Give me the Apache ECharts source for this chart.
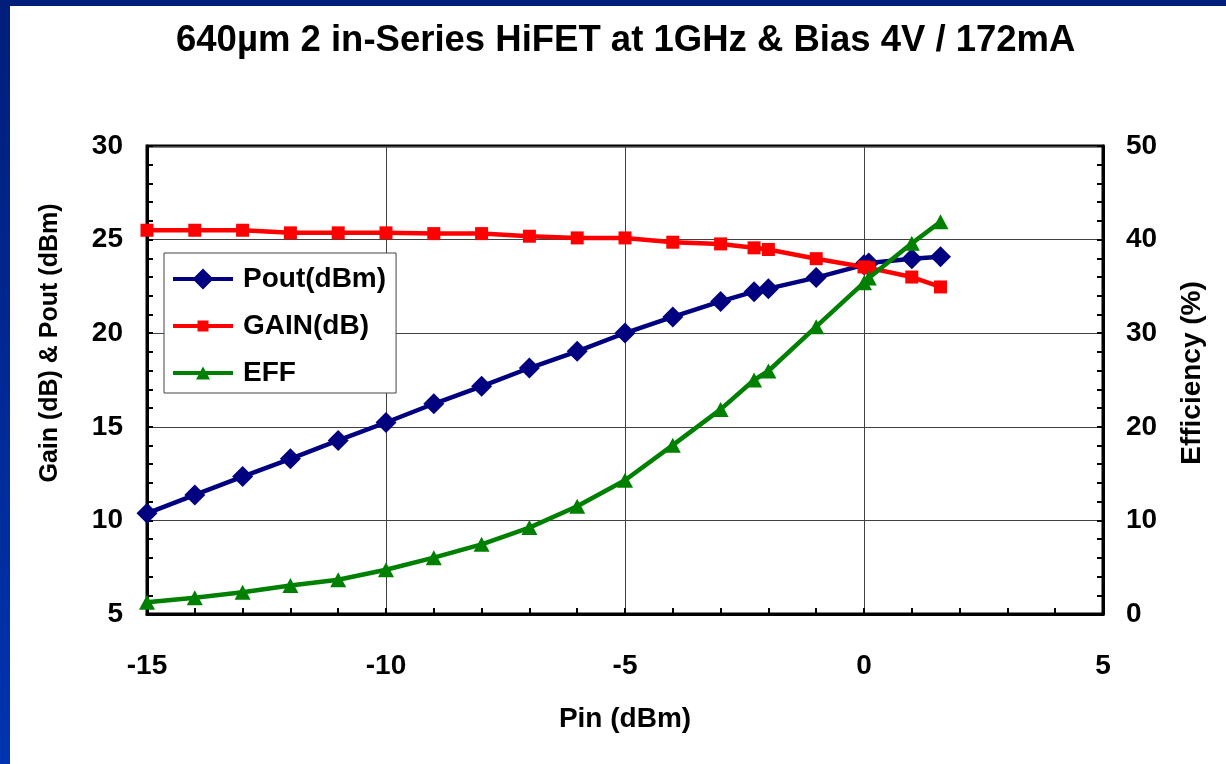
<!DOCTYPE html>
<html>
<head>
<meta charset="utf-8">
<script src="https://cdn.jsdelivr.net/npm/echarts@6/dist/echarts.min.js"></script>
<style>
html,body{margin:0;padding:0;background:#fff;}
#chart{width:1226px;height:764px;}
</style>
</head>
<body>
<div id="chart"></div>
<script>
// ---- data ----
const pin  = [-15, -14, -13, -12, -11, -10, -9, -8, -7, -6, -5, -4, -3, -2.3, -2, -1, 0, 0.1, 1, 1.6];
const pout = [10.38, 11.36, 12.34, 13.29, 14.27, 15.23, 16.23, 17.16, 18.14, 19.03, 20.01, 20.87, 21.70, 22.22, 22.38, 22.97, 23.65, 23.75, 23.98, 24.09];
const gain = [25.50, 25.50, 25.50, 25.36, 25.36, 25.36, 25.32, 25.32, 25.18, 25.09, 25.09, 24.86, 24.77, 24.56, 24.47, 23.98, 23.54, 23.49, 23.00, 22.47];
const eff  = [1.26, 1.73, 2.33, 3.05, 3.66, 4.73, 6.02, 7.44, 9.23, 11.51, 14.29, 18.04, 21.86, 25.00, 25.96, 30.70, 35.40, 35.90, 39.60, 41.90];

const titleText = '640µm 2 in-Series HiFET at 1GHz & Bias 4V / 172mA';
const xName = 'Pin (dBm)';
const yLeftName = 'Gain (dB) & Pout (dBm)';
const yRightName = 'Efficiency (%)';
const seriesNames = ['Pout(dBm)', 'GAIN(dB)', 'EFF'];

const FONT = "'Liberation Sans', Arial, Helvetica, sans-serif";
const pair = (ys) => pin.map((x, i) => [x, ys[i]]);

const ext = 'M0,0 L0.01,0 L0,0.01 Z M0,22 L0.01,22 L0,21.99 Z M60,0 L59.99,0 L60,0.01 Z ';
const bar = 'M0,9 L60,9 L60,13 L0,13 Z ';
const iconDiamond = 'path://' + ext + bar + 'M30,0.5 L40.5,11 L30,21.5 L19.5,11 Z';
const iconSquare  = 'path://' + ext + bar + 'M24.5,5.5 L35.5,5.5 L35.5,16.5 L24.5,16.5 Z';
const iconTri     = 'path://' + ext + bar + 'M30,4.5 L37,17.5 L23,17.5 Z';

const axisLabelStyle = {fontSize: 28, fontWeight: 'bold', color: '#000', fontFamily: FONT};
const tickStyle = {show: true, inside: true, length: 6, lineStyle: {color: '#000', width: 2}};
const minorStyle = {show: true, splitNumber: 5, length: 6, lineStyle: {color: '#000', width: 2}};

const chart = echarts.init(document.getElementById('chart'), null, {renderer: 'canvas'});
chart.setOption({
  animation: false,
  backgroundColor: '#ffffff',
  title: {
    text: titleText,
    left: 176,
    top: 22,
    padding: 0,
    textStyle: {fontSize: 36.5, fontWeight: 'bold', color: '#000', fontFamily: FONT}
  },
  graphic: [
    {type: 'rect', left: 0, top: 0, z: 100, shape: {width: 1226, height: 6}, style: {fill: '#001e7a'}},
    {type: 'rect', left: 0, top: 0, z: 100, shape: {width: 10, height: 764},
      style: {fill: new echarts.graphic.LinearGradient(0, 0, 0, 1, [
        {offset: 0, color: '#001e7a'}, {offset: 1, color: '#0034b0'}])}}
  ],
  grid: {
    left: 147, right: 123, top: 146, bottom: 150,
    show: true, borderColor: '#000', borderWidth: 3, backgroundColor: 'transparent'
  },
  legend: {
    orient: 'vertical',
    left: 164, top: 253,
    padding: [11, 10, 5, 9],
    itemWidth: 60, itemHeight: 22, itemGap: 17,
    backgroundColor: '#fff',
    borderColor: '#444', borderWidth: 1,
    itemStyle: {borderWidth: 0},
    textStyle: {fontSize: 28, fontWeight: 'bold', color: '#000', fontFamily: FONT, lineHeight: 30, padding: [0, 0, 0, 5]},
    data: [
      {name: seriesNames[0], icon: iconDiamond},
      {name: seriesNames[1], icon: iconSquare},
      {name: seriesNames[2], icon: iconTri}
    ]
  },
  xAxis: {
    type: 'value', min: -15, max: 5, interval: 5,
    name: xName, nameLocation: 'middle', nameGap: 91,
    nameTextStyle: {fontSize: 28, fontWeight: 'bold', color: '#000', fontFamily: FONT},
    axisLine: {show: true, onZero: false, lineStyle: {color: '#000', width: 3}},
    axisTick: tickStyle, minorTick: minorStyle,
    axisLabel: Object.assign({margin: 38}, axisLabelStyle),
    splitLine: {show: true, lineStyle: {color: '#404040', width: 1}}
  },
  yAxis: [
    {
      type: 'value', min: 5, max: 30, interval: 5, position: 'left',
      name: yLeftName, nameLocation: 'middle', nameGap: 84,
      nameTextStyle: {fontSize: 25, fontWeight: 'bold', color: '#000', fontFamily: FONT, padding: [0, 0, 0, 74]},
      axisLine: {show: true, onZero: false, lineStyle: {color: '#000', width: 3}},
      axisTick: tickStyle, minorTick: minorStyle,
      axisLabel: Object.assign({margin: 24}, axisLabelStyle),
      splitLine: {show: true, lineStyle: {color: '#404040', width: 1}}
    },
    {
      type: 'value', min: 0, max: 50, interval: 10, position: 'right',
      name: yRightName, nameLocation: 'middle', nameGap: 75,
      nameTextStyle: {fontSize: 28, fontWeight: 'bold', color: '#000', fontFamily: FONT, padding: [0, 0, 0, 14]},
      axisLine: {show: true, onZero: false, lineStyle: {color: '#000', width: 3}},
      axisTick: tickStyle, minorTick: minorStyle,
      axisLabel: Object.assign({margin: 23}, axisLabelStyle),
      splitLine: {show: false}
    }
  ],
  series: [
    {
      name: seriesNames[0], type: 'line', yAxisIndex: 0, data: pair(pout),
      symbol: 'diamond', symbolSize: 21, smooth: false,
      color: '#000080', lineStyle: {width: 4.5, color: '#000080'}, itemStyle: {color: '#000080'}, z: 3
    },
    {
      name: seriesNames[1], type: 'line', yAxisIndex: 0, data: pair(gain),
      symbol: 'rect', symbolSize: 13, smooth: false,
      color: '#ff0000', lineStyle: {width: 4.5, color: '#ff0000'}, itemStyle: {color: '#ff0000'}, z: 4
    },
    {
      name: seriesNames[2], type: 'line', yAxisIndex: 1, data: pair(eff),
      symbol: 'triangle', symbolSize: [16, 15], smooth: false,
      color: '#008000', lineStyle: {width: 4.5, color: '#008000'}, itemStyle: {color: '#008000'}, z: 5
    }
  ]
});
</script>
</body>
</html>
